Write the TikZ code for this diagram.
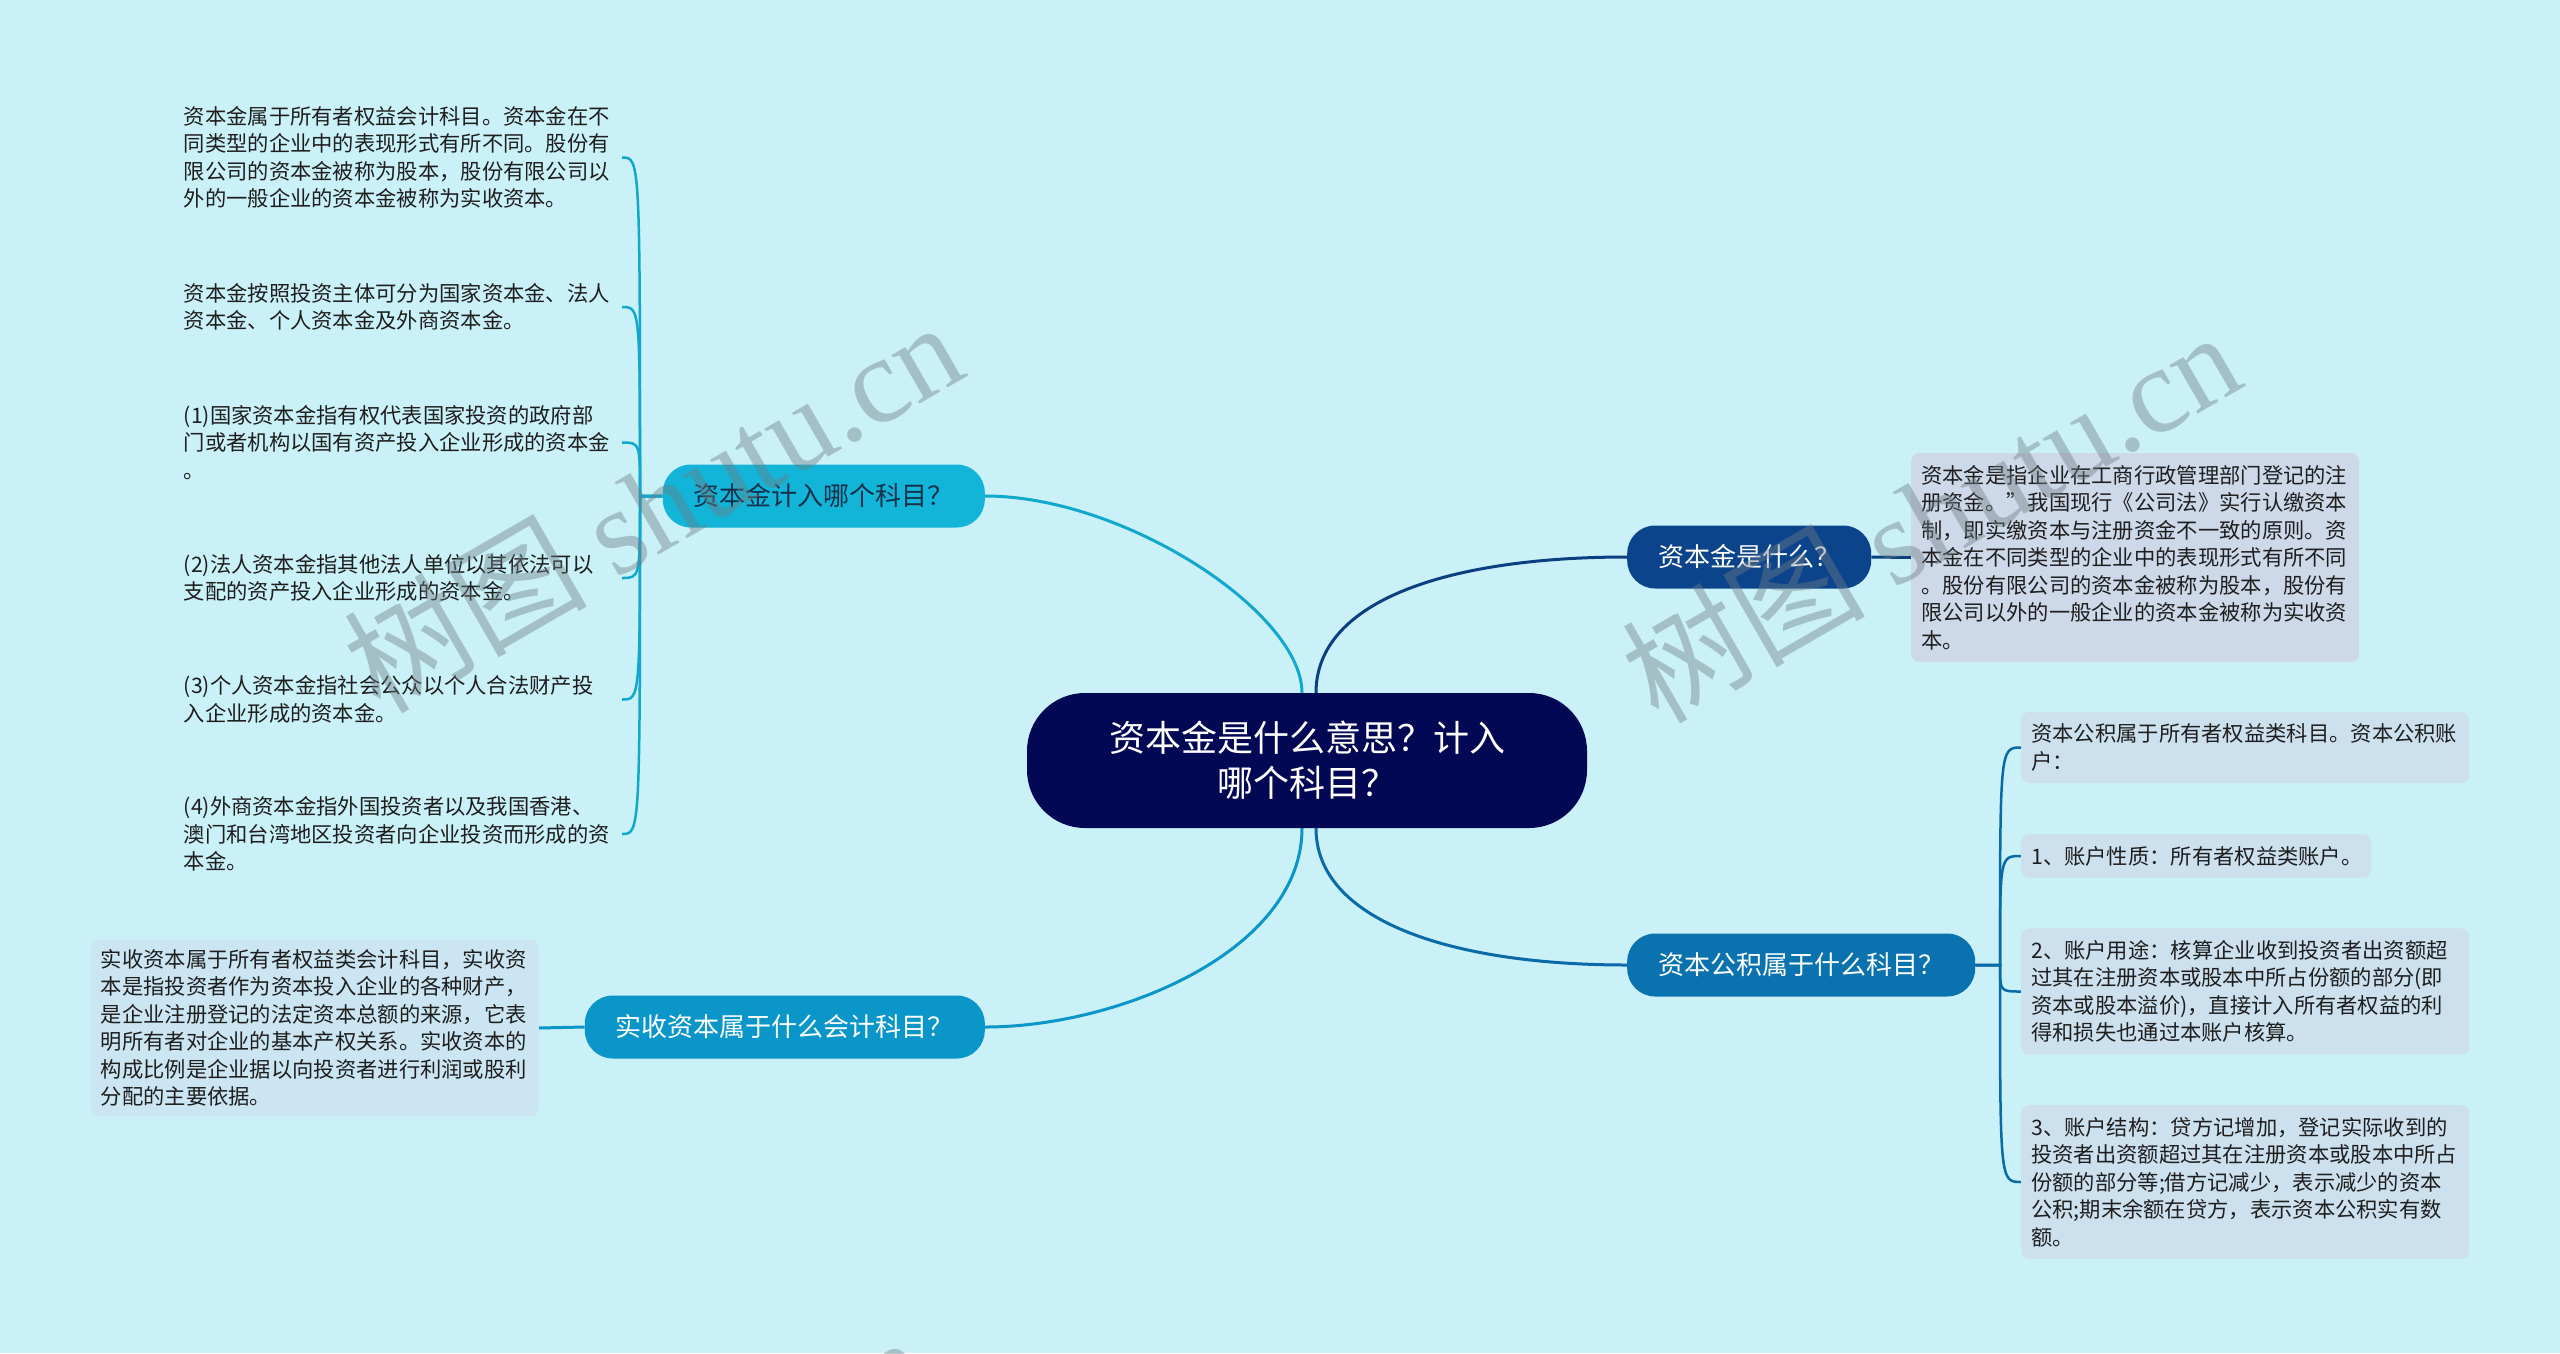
\documentclass[tikz,border=0pt]{standalone}
\usepackage{fontspec}
\setmainfont{Noto Sans CJK SC}
\newfontfamily\wmlatin{Liberation Serif}
\usetikzlibrary{calc,backgrounds}
\definecolor{bg}{HTML}{CAF0F8}
\definecolor{cCentral}{HTML}{030855}
\definecolor{cN1}{HTML}{0C448C}
\definecolor{cN2}{HTML}{0A73AF}
\definecolor{cN3}{HTML}{12B4D7}
\definecolor{cN4}{HTML}{0A96C8}
\definecolor{lN1}{HTML}{0C3F80}
\definecolor{lN2}{HTML}{0A6AA8}
\definecolor{lN3}{HTML}{12A8CC}
\definecolor{lN4}{HTML}{0A96C8}
\definecolor{cN3text}{HTML}{14304A}
\definecolor{boxA}{HTML}{CDD8E8}
\definecolor{boxB}{HTML}{CCE0EE}
\definecolor{boxC}{HTML}{CBE6F2}
\definecolor{txt}{HTML}{1E1E1E}
\definecolor{wmgray}{HTML}{6E7E84}
\tikzset{
  central/.style={fill=cCentral, text=white, rounded corners=58pt, minimum width=560pt,
    minimum height=135pt, align=center, inner sep=0pt, font=\fontsize{36}{45}\selectfont},
  branch/.style={rounded corners=28pt, minimum height=63pt, inner xsep=31pt, inner ysep=0pt,
    font=\fontsize{26}{32}\selectfont},
  leaf/.style={align=left, text width=428pt, inner xsep=10pt, inner ysep=12pt,
    font=\fontsize{21.3}{27.5}\selectfont, text=txt},
  leafbox/.style={leaf, rounded corners=8pt},
  mainline/.style={line width=3pt},
  subline/.style={line width=2.5pt},
  wm/.style={text=wmgray, text opacity=0.42, rotate=30, inner sep=0pt,
    font=\fontsize{122}{122}\selectfont}
}
\begin{document}
\begin{tikzpicture}[x=1pt,y=-1pt]
\useasboundingbox (0,0) rectangle (2560,1353);
\begin{pgfonlayer}{background}
\fill[bg] (0,0) rectangle (2560,1353);
\end{pgfonlayer}

% central node
\node[central] (c) at (1307,760.5) {资本金是什么意思？计入\\哪个科目？};

% branch nodes
\node[branch, fill=cN1, text=white, anchor=west] (n1) at (1627,557) {资本金是什么？};
\node[branch, fill=cN2, text=white, anchor=west] (n2) at (1627,965) {资本公积属于什么科目？};
\node[branch, fill=cN3, text=cN3text, anchor=east] (n3) at (985,496) {资本金计入哪个科目？};
\node[branch, fill=cN4, text=white, anchor=east] (n4) at (985,1027) {实收资本属于什么会计科目？};

% right 1 box
\node[leafbox, fill=boxA, anchor=west] (r1) at (1911,557.5) {资本金是指企业在工商行政管理部门登记的注\\册资金。”我国现行《公司法》实行认缴资本\\制，即实缴资本与注册资金不一致的原则。资\\本金在不同类型的企业中的表现形式有所不同\\。股份有限公司的资本金被称为股本，股份有\\限公司以外的一般企业的资本金被称为实收资\\本。};

% right 2 children
\node[leafbox, fill=boxB, anchor=west] (c1) at (2021,747.5) {资本公积属于所有者权益类科目。资本公积账\\户：};
\node[leafbox, fill=boxB, anchor=west, text width=330pt] (c2) at (2021,856) {1、账户性质：所有者权益类账户。};
\node[leafbox, fill=boxB, anchor=west] (c3) at (2021,991.5) {2、账户用途：核算企业收到投资者出资额超\\过其在注册资本或股本中所占份额的部分(即\\资本或股本溢价)，直接计入所有者权益的利\\得和损失也通过本账户核算。};
\node[leafbox, fill=boxB, anchor=west] (c4) at (2021,1182) {3、账户结构：贷方记增加，登记实际收到的\\投资者出资额超过其在注册资本或股本中所占\\份额的部分等;借方记减少，表示减少的资本\\公积;期末余额在贷方，表示资本公积实有数\\额。};

% bottom-left box
\node[leafbox, fill=boxC, anchor=east, inner ysep=9.5pt] (b) at (539,1028) {实收资本属于所有者权益类会计科目，实收资\\本是指投资者作为资本投入企业的各种财产，\\是企业注册登记的法定资本总额的来源，它表\\明所有者对企业的基本产权关系。实收资本的\\构成比例是企业据以向投资者进行利润或股利\\分配的主要依据。};

% left texts
\node[leaf, anchor=east] (t1) at (622,157.5) {资本金属于所有者权益会计科目。资本金在不\\同类型的企业中的表现形式有所不同。股份有\\限公司的资本金被称为股本，股份有限公司以\\外的一般企业的资本金被称为实收资本。};
\node[leaf, anchor=east] (t2) at (622,307) {资本金按照投资主体可分为国家资本金、法人\\资本金、个人资本金及外商资本金。};
\node[leaf, anchor=east] (t3) at (622,442.5) {(1)国家资本金指有权代表国家投资的政府部\\门或者机构以国有资产投入企业形成的资本金\\。};
\node[leaf, anchor=east] (t4) at (622,578) {(2)法人资本金指其他法人单位以其依法可以\\支配的资产投入企业形成的资本金。};
\node[leaf, anchor=east] (t5) at (622,699.5) {(3)个人资本金指社会公众以个人合法财产投\\入企业形成的资本金。};
\node[leaf, anchor=east] (t6) at (622,834) {(4)外商资本金指外国投资者以及我国香港、\\澳门和台湾地区投资者向企业投资而形成的资\\本金。};

\coordinate (lt) at (640,496);
\coordinate (rt) at (2000,965);

% connectors (behind nodes)
\begin{pgfonlayer}{background}
\draw[mainline, lN1] ([xshift=9pt]c.north) .. controls +(0,-93) and +(-177,0) .. (n1.west);
\draw[mainline, lN2] ([xshift=9pt]c.south) .. controls +(0,92) and +(-177,0) .. (n2.west);
\draw[mainline, lN3] ([xshift=-5pt]c.north) .. controls +(0,-80) and +(140,0) .. (n3.east);
\draw[mainline, lN4] ([xshift=-5pt]c.south) .. controls +(0,122) and +(135,0) .. (n4.east);
\draw[mainline, lN1] (n1.east) -- (r1.west);
\draw[mainline, lN4] (n4.west) -- (b.east);
\foreach \t in {t1,t2,t3,t4,t5,t6}
  \draw[subline, lN3] (n3.west) -- (lt) .. controls (lt |- \t.east) .. (\t.east);
\foreach \t in {c1,c2,c3,c4}
  \draw[subline, lN2] (n2.east) -- (rt) .. controls (rt |- \t.west) .. (\t.west);
\end{pgfonlayer}

% watermarks
\node[wm] (w1) at (652,505) {树图 {\wmlatin shutu.cn}};
\node[wm] (w2) at (1930,515) {树图 {\wmlatin shutu.cn}};
\node[wm] (w3) at (618,1520) {树图 {\wmlatin shutu.cn}};
\node[wm] (w4) at (1898,1530) {树图 {\wmlatin shutu.cn}};
\end{tikzpicture}
\end{document}
